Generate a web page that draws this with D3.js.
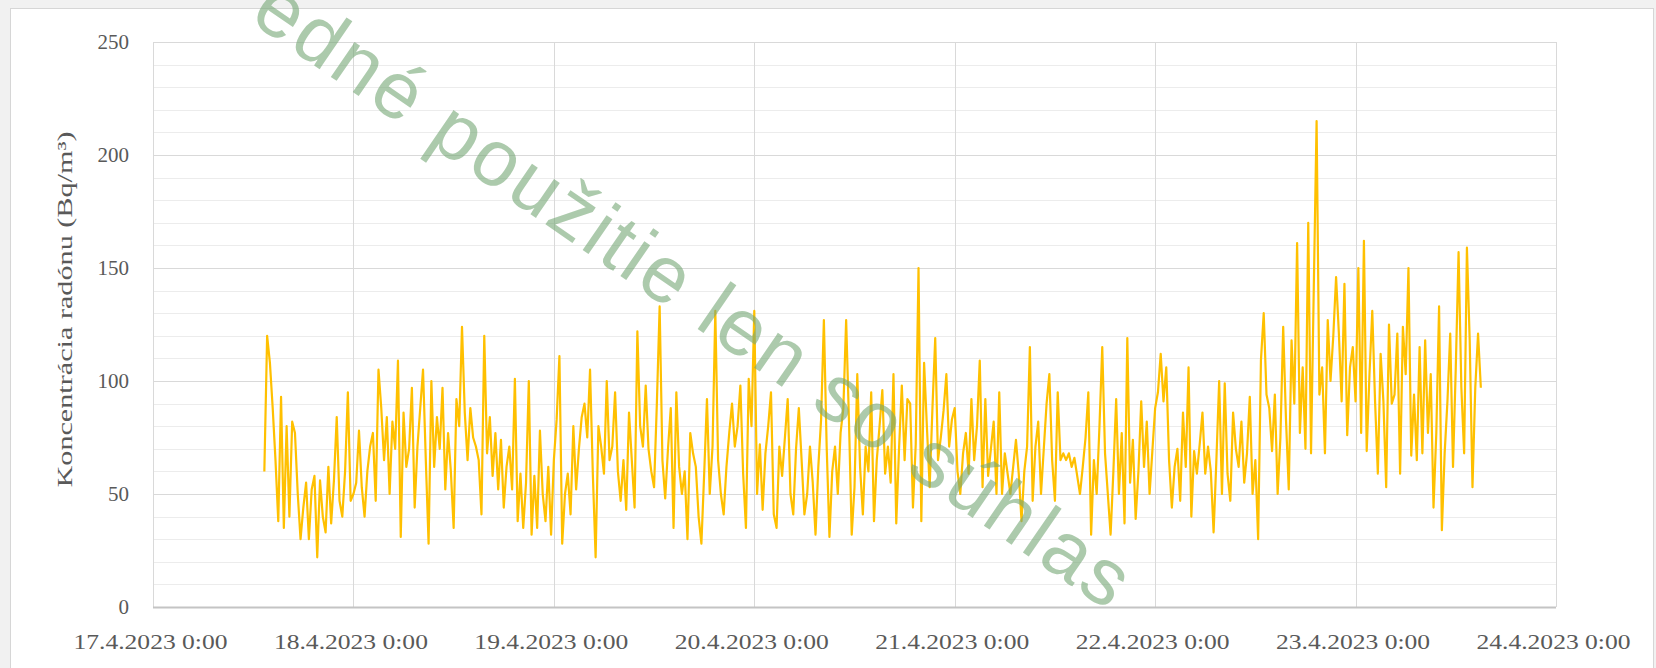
<!DOCTYPE html>
<meta charset="utf-8">
<style>
body { margin: 0; background: #f1f1f1; }
.tick text { font-family: "Liberation Serif", "Times New Roman", serif; font-size: 21px; fill: #595959; }
.title { font-family: "Liberation Serif", "Times New Roman", serif; font-size: 22px; fill: #595959; }
.grid-minor line { stroke: #ececec; stroke-width: 1; }
.grid-major line { stroke: #d9d9d9; stroke-width: 1; }
.watermark { font-family: "Liberation Sans", Arial, sans-serif; font-size: 80px; letter-spacing: 3px; fill: #74a674; fill-opacity: 0.6; }
</style>
<body>
<script src="https://d3js.org/d3.v7.min.js"></script>
<script>

// radon concentration, 20 minute readings
var day17 = [60,120,108,88,65,38,93,35,80,40,82,77,50,30,44,55,30,52,58,22,56,40,33,62,37,56,84,47,40,60,95,47];
var day18 = [50,55,78,53,40,60,71,77,47,105,88,65,84,50,82,70,109,31,86,62,70,97,44,71,88,105,65,28,100,62,
  84,70,97,52,77,60,35,92,80,124,86,65,88,75,71,65,41,120,68,84,58,77,52,74,44,62,71,52,101,38,
  59,35,55,100,32,58,35,78,50,38,62,32];
var day19 = [65,83,111,28,50,59,41,80,52,70,84,90,75,105,59,22,80,71,59,100,65,71,95,60,47,65,43,86,65,44,
  122,80,71,98,70,60,53,90,133,65,48,70,88,35,95,62,50,60,30,77,68,62,40,28,59,92,50,71,131,65,
  50,41,62,77,90,71,80,98,59,35,101,80];
var day20 = [131,50,72,43,68,80,95,41,35,71,58,75,92,50,41,70,88,65,41,50,71,55,32,62,83,127,71,31,60,71,
  50,77,88,127,83,32,53,103,62,41,71,60,95,38,65,80,96,59,71,55,103,37,70,98,65,92,90,44,72,150,
  38,108,80,53,88,119,65,75,87,103,71,83];
var day21 = [88,60,50,68,77,59,92,65,80,109,53,92,58,70,82,50,95,50,68,59,50,62,74,59,38,60,71,115,47,71,
  82,50,70,90,103,65,47,95,65,68,65,68,62,66,58,50,62,75,95,32,65,50,80,115,68,50,32,60,92,50,
  77,37,119,55,74,39,60,91,62,82,50,69];
var day22 = [88,95,112,91,106,65,44,62,70,47,86,62,106,40,69,59,72,86,59,71,60,33,65,100,50,99,59,47,86,70,
  62,82,55,68,93,50,65,30,109,130,94,88,69,94,50,75,124,83,52,118,90,161,77,106,70,170,68,142,215,94,
  106,68,127,100,120,146,121,91,143,76,106,115];
var day23 = [91,150,77,162,69,103,131,91,59,112,91,53,125,90,94,121,59,124,103,150,67,94,65,115,68,118,77,103,44,77,
  133,34,68,91,121,62,106,157,97,68,159,118,53,97,121,97];

var days = [
  {start: new Date(2023, 3, 17, 13, 20), values: day17},
  {start: new Date(2023, 3, 18, 0, 0), values: day18},
  {start: new Date(2023, 3, 19, 0, 0), values: day19},
  {start: new Date(2023, 3, 20, 0, 0), values: day20},
  {start: new Date(2023, 3, 21, 0, 0), values: day21},
  {start: new Date(2023, 3, 22, 0, 0), values: day22},
  {start: new Date(2023, 3, 23, 0, 0), values: day23}
];
var yTicks = [0, 50, 100, 150, 200, 250];
var xTicks = d3.range(17, 25).map(function(d) { return new Date(2023, 3, d, 0, 0); });

var data = [];
days.forEach(function(d) {
  d.values.forEach(function(v, i) {
    data.push({t: new Date(d.start.getTime() + i * 20 * 60000), v: v});
  });
});

var W = 1656, H = 668;
var margin = {top: 42, right: 100, bottom: 61, left: 153};

var svg = d3.select("body").append("svg")
    .attr("width", W)
    .attr("height", H);

svg.append("rect")
    .attr("x", 10.5).attr("y", 8.5)
    .attr("width", 1643).attr("height", 700)
    .style("fill", "#fff")
    .style("stroke", "#d6d6d6");

var x = d3.scaleTime()
    .domain([xTicks[0], xTicks[xTicks.length - 1]])
    .range([margin.left, W - margin.right]);
var y = d3.scaleLinear()
    .domain([0, 250])
    .range([H - margin.bottom, margin.top]);

// gridlines
svg.append("g").attr("class", "grid-minor")
  .selectAll("line")
  .data(d3.range(10, 250, 10).filter(function(d) { return d % 50; }))
  .enter().append("line")
    .attr("x1", x.range()[0]).attr("x2", x.range()[1])
    .attr("y1", function(d) { return Math.round(y(d)) + 0.5; })
    .attr("y2", function(d) { return Math.round(y(d)) + 0.5; });

svg.append("g").attr("class", "grid-major")
  .selectAll("line")
  .data(yTicks.slice(1))
  .enter().append("line")
    .attr("x1", x.range()[0]).attr("x2", x.range()[1])
    .attr("y1", function(d) { return Math.round(y(d)) + 0.5; })
    .attr("y2", function(d) { return Math.round(y(d)) + 0.5; });

svg.append("g").attr("class", "grid-major")
  .selectAll("line")
  .data(xTicks)
  .enter().append("line")
    .attr("x1", function(d) { return Math.round(x(d)) + 0.5; })
    .attr("x2", function(d) { return Math.round(x(d)) + 0.5; })
    .attr("y1", y(250)).attr("y2", y(0));

// axis line at bottom
svg.append("line")
    .attr("x1", x.range()[0]).attr("x2", x.range()[1])
    .attr("y1", Math.round(y(0)) + 0.5).attr("y2", Math.round(y(0)) + 0.5)
    .style("stroke", "#c4c4c4")
    .style("stroke-width", 2);

svg.append("g")
    .attr("transform", "translate(0," + y(0) + ")")
    .call(d3.axisBottom(x)
      .tickValues(xTicks)
      .tickSize(0)
      .tickPadding(27)
      .tickFormat(d3.timeFormat("%-d.%-m.%Y %-H:%M")))
    .call(function(g) { g.select(".domain").remove(); })
    .selectAll("text")
      .attr("textLength", 154)
      .attr("lengthAdjust", "spacingAndGlyphs")
      .attr("x", -80)
      .style("text-anchor", "start");

svg.append("g")
    .attr("transform", "translate(" + x.range()[0] + ",0)")
    .call(d3.axisLeft(y)
      .tickValues(yTicks)
      .tickSize(0)
      .tickPadding(24))
    .call(function(g) { g.select(".domain").remove(); });

svg.append("text")
    .attr("class", "title")
    .attr("transform", "translate(72," + (y(125) - 15) + ") rotate(-90)")
    .attr("x", -178)
    .attr("textLength", 356)
    .attr("lengthAdjust", "spacingAndGlyphs")
    .text("Koncentrácia radónu (Bq/m³)");

// the series
var line = d3.line()
    .x(function(d) { return x(d.t); })
    .y(function(d) { return y(d.v); });

svg.append("path")
    .datum(data)
    .attr("d", line)
    .style("fill", "none")
    .style("stroke", "#FFC000")
    .style("stroke-width", 2.2)
    .style("stroke-linejoin", "round");

// watermark over the picture
svg.append("text")
    .attr("class", "watermark")
    .attr("transform", "translate(248,20) rotate(34.5)")
    .text("edné použitie len so súhlas");

</script>
</body>
